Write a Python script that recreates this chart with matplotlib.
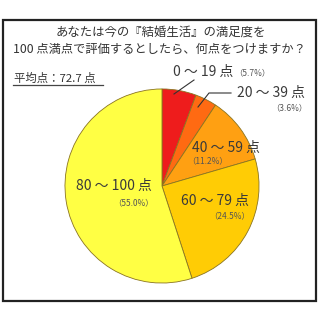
import matplotlib
matplotlib.use("Agg")
import matplotlib.pyplot as plt
from matplotlib.patches import Rectangle
from matplotlib.lines import Line2D

plt.rcParams['font.family'] = ['Noto Sans CJK JP', 'DejaVu Sans']

# データ
labels = ['0 ～ 19 点', '20 ～ 39 点', '40 ～ 59 点', '60 ～ 79 点', '80 ～ 100 点']
shares = [5.7, 3.6, 11.2, 24.5, 55.0]
colors = ['#ee1c1c', '#ff6a12', '#ffa012', '#ffcc05', '#ffff44']
title_lines = ['あなたは今の『結婚生活』の満足度を',
               '100 点満点で評価するとしたら、何点をつけますか？']
average_text = '平均点：72.7 点'

W = H = 320
fig = plt.figure(figsize=(3.2, 3.2), dpi=100)


def fx(x):
    return x / W


def fy(y):
    return 1 - y / H


def pct(v):
    return '（%.1f%%）' % v


# 枠
fig.patches.append(Rectangle((fx(3), fy(301)), fx(313), (301 - 20) / H,
                             transform=fig.transFigure, fill=False,
                             edgecolor='#222222', linewidth=1.6))

# 円グラフ
cx, cy, r = 162, 186, 98
ax = fig.add_axes([fx(cx - r), fy(cy + r), 2 * r / W, 2 * r / H])
ax.pie(shares, colors=colors, startangle=90, counterclock=False,
       wedgeprops=dict(edgecolor='#8a7420', linewidth=0.6))
ax.set_xlim(-1.01, 1.01)
ax.set_ylim(-1.01, 1.01)
ax.set_aspect('equal')
ax.axis('off')

# タイトル
fig.text(fx(161), fy(32), title_lines[0], ha='center', va='center',
         fontsize=8.9, color='#333333')
fig.text(fx(159), fy(49), title_lines[1], ha='center', va='center',
         fontsize=8.8, color='#333333')

# 平均点
fig.text(fx(14), fy(78), average_text, ha='left', va='center',
         fontsize=8.2, color='#333333')
fig.lines.append(Line2D([fx(13), fx(103)], [fy(85), fy(85)],
                        transform=fig.transFigure, color='#444444', linewidth=0.9))

lab_kw = dict(fontsize=10, color='#3a3a3a', va='center')
pct_kw = dict(fontsize=6.0, color='#555555', va='center')

# 0～19
fig.text(fx(173), fy(72), labels[0], ha='left', **lab_kw)
fig.text(fx(270), fy(73), pct(shares[0]), ha='right', **pct_kw)
fig.lines.append(Line2D([fx(174), fx(194)], [fy(94), fy(80)],
                        transform=fig.transFigure, color='#333333', linewidth=0.8))

# 20～39
fig.text(fx(305), fy(93), labels[1], ha='right', **lab_kw)
fig.text(fx(307), fy(108), pct(shares[1]), ha='right', **pct_kw)
fig.lines.append(Line2D([fx(198), fx(209), fx(231)], [fy(107), fy(93), fy(93)],
                        transform=fig.transFigure, color='#333333', linewidth=0.8))

# 40～59
fig.text(fx(226), fy(148), labels[2], ha='center', **lab_kw)
fig.text(fx(208), fy(161), pct(shares[2]), ha='center', **pct_kw)

# 60～79
fig.text(fx(215), fy(201), labels[3], ha='center', **lab_kw)
fig.text(fx(250), fy(216), pct(shares[3]), ha='right', **pct_kw)

# 80～100
fig.text(fx(114), fy(186), labels[4], ha='center', **lab_kw)
fig.text(fx(154), fy(203), pct(shares[4]), ha='right', **pct_kw)

fig.savefig('out.png', dpi=100)
